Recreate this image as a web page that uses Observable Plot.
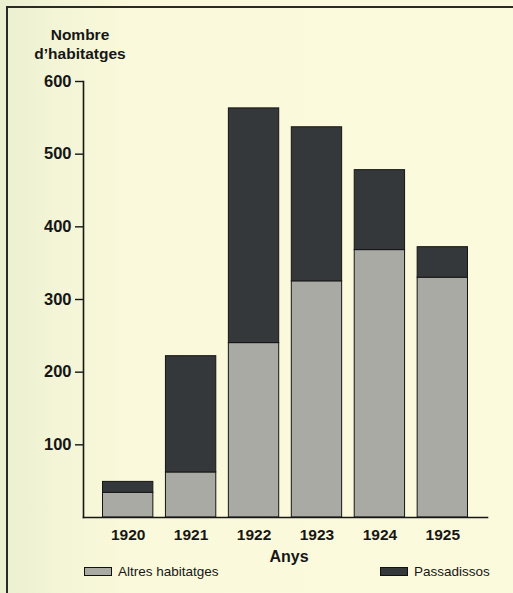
<!DOCTYPE html>
<html><head><meta charset="utf-8">
<script src="https://cdn.jsdelivr.net/npm/d3@7"></script>
<script src="https://cdn.jsdelivr.net/npm/@observablehq/plot@0.6"></script>
<style>
html,body{margin:0;padding:0;background:#fbf9da;}
#wrap{position:relative;width:513px;height:593px;overflow:hidden;font-family:"Liberation Sans",Arial,sans-serif;color:#161616;
 background:linear-gradient(90deg,#eaf0d0 0px,#f3f5d6 60px,#fbf9db 140px,#fcfadc 100%);}
#chart{position:absolute;left:0;top:0;}
#chart svg [aria-label="y-axis tick label"] text{font-size:16.5px;font-weight:bold;}
#chart svg [aria-label="x-axis tick label"] text{font-size:15.5px;font-weight:bold;}
.bt{position:absolute;left:7px;top:6px;width:506px;height:2px;background:#2a2a2a;}
.bl{position:absolute;left:6px;top:6px;width:2px;height:587px;background:#2a2a2a;}
.title{position:absolute;left:25px;top:25px;width:110px;text-align:center;font-weight:bold;font-size:15.5px;line-height:19px;}
.xlab{position:absolute;left:239px;top:548px;width:100px;text-align:center;font-weight:bold;font-size:16px;}
.leg{position:absolute;top:564px;font-size:13.5px;display:flex;align-items:center;}
.sw{display:inline-block;width:26px;height:7px;border:1px solid #111;margin-right:6px;}
</style></head><body>
<div id="wrap">
 <div id="chart"></div>
 <div class="bt"></div><div class="bl"></div>
 <div class="title">Nombre<br>d’habitatges</div>
 <div class="xlab">Anys</div>
 <div class="leg" style="left:84px"><span class="sw" style="background:#a9aaa4"></span>Altres habitatges</div>
 <div class="leg" style="left:380px"><span class="sw" style="background:#35383a"></span>Passadissos</div>
</div>
<script>
const years = ["1920","1921","1922","1923","1924","1925"];
const altres = [34, 62, 240, 325, 368, 330];
const passadissos = [15, 160, 323, 212, 110, 42];
const series = ["Altres habitatges", "Passadissos"];
const seriesColors = ["#a9aaa4", "#35383a"];
const yTicks = [100, 200, 300, 400, 500, 600];

const data = [];
years.forEach((y, i) => {
  data.push({year: y, serie: series[0], value: altres[i]});
  data.push({year: y, serie: series[1], value: passadissos[i]});
});

const chart = Plot.plot({
  width: 513,
  height: 593,
  marginTop: 81,
  marginBottom: 76,
  marginLeft: 83,
  marginRight: 26,
  style: {background: "transparent", fontFamily: "'Liberation Sans', Arial, sans-serif", fontSize: "15px", fontWeight: "bold", color: "#161616"},
  x: {domain: years, paddingInner: 0.2, paddingOuter: 0.31, round: false, label: null},
  y: {domain: [0, 600], label: null},
  color: {domain: series, range: seriesColors},
  marks: [
    Plot.barY(data, {x: "year", y: "value", fill: "serie", stroke: "#151515", strokeWidth: 1}),
    Plot.frame({anchor: "left", stroke: "#161616", strokeWidth: 1.6}),
    Plot.frame({anchor: "bottom", stroke: "#161616", strokeWidth: 1.6}),
    Plot.axisY({ticks: yTicks, tickSize: 8, tickPadding: 4, strokeWidth: 1.4, label: null}),
    Plot.axisX({tickSize: 0, tickPadding: 11, label: null})
  ]
});
document.getElementById("chart").appendChild(chart);
</script>
</body></html>
